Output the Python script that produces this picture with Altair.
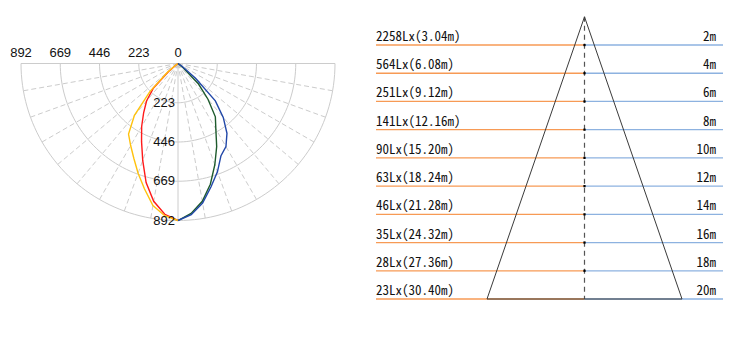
import altair as alt
import numpy as np
import pandas as pd

# ---------------- photometric (polar) data ----------------
# luminous intensity in cd against angle from nadir (degrees)
angles = [0, 5, 10, 15, 20, 25, 30, 35, 40, 45, 50, 55, 60, 65, 70, 75, 80, 85, 90]
plane_c0 = [892, 868, 820, 737, 663, 594, 538, 490, 385, 226, 78, 15, 0, 0, 0, 0, 0, 0, 0]
plane_c180 = [892, 860, 795, 700, 586, 490, 413, 340, 278, 197, 70, 10, 0, 0, 0, 0, 0, 0, 0]
plane_c90 = [892, 855, 795, 710, 612, 520, 430, 370, 265, 165, 40, 5, 0, 0, 0, 0, 0, 0, 0]
plane_c270 = [892, 862, 805, 725, 655, 578, 545, 485, 400, 300, 130, 30, 0, 0, 0, 0, 0, 0, 0]
ring_values = [223, 446, 669, 892]

# ---------------- illuminance cone data ----------------
distance_m = [2, 4, 6, 8, 10, 12, 14, 16, 18, 20]
illuminance_lx = [2258, 564, 251, 141, 90, 63, 46, 35, 28, 23]
spot_diameter_m = [3.04, 6.08, 9.12, 12.16, 15.20, 18.24, 21.28, 24.32, 27.36, 30.40]

H = 341
NUM_FONT = "Liberation Sans Narrow, Arial Narrow, Liberation Sans, sans-serif"
JP_FONT = "Noto Sans Mono CJK JP, Noto Sans CJK JP, Liberation Mono, monospace"

# ====================== polar panel ======================
LW = 360
S = 157 / 892          # px per cd
CX, CY = 178, 63.5     # pole position inside the panel
RMAX = ring_values[-1]

xs = alt.Scale(domain=[-CX / S, (LW - CX) / S], nice=False, zero=False)
ys = alt.Scale(domain=[-CY / S, (H - CY) / S], nice=False, zero=False, reverse=True)
X = lambda f: alt.X(f, type="quantitative", scale=xs, axis=None)
Y = lambda f: alt.Y(f, type="quantitative", scale=ys, axis=None)

rad = np.deg2rad
ring_rows = []
for r in ring_values:
    for a in range(-90, 91, 2):
        ring_rows.append({"r": r, "a": a, "x": r * np.sin(rad(a)), "y": r * np.cos(rad(a))})
rings = alt.Chart(pd.DataFrame(ring_rows)).mark_line(color="#cccccc", strokeWidth=1).encode(
    x=X("x"), y=Y("y"), detail="r:N", order="a:Q")

spoke_rows = []
for a in range(-90, 91, 10):
    spoke_rows.append({"a": a, "x": 0.0, "y": 0.0,
                       "x2": RMAX * np.sin(rad(a)), "y2": RMAX * np.cos(rad(a)),
                       "solid": a in (-90, 0, 90)})
spokes_df = pd.DataFrame(spoke_rows)
spokes_dash = alt.Chart(spokes_df[~spokes_df.solid]).mark_rule(
    color="#cccccc", strokeWidth=1, strokeDash=[5, 3]).encode(
    x=X("x"), y=Y("y"), x2="x2:Q", y2="y2:Q")
spokes_solid = alt.Chart(spokes_df[spokes_df.solid]).mark_rule(
    color="#cccccc", strokeWidth=1).encode(
    x=X("x"), y=Y("y"), x2="x2:Q", y2="y2:Q")

top_labels = pd.DataFrame({"v": [0] + ring_values})
top_labels["x"] = -top_labels["v"]
top_labels["y"] = 0.0
top_text = alt.Chart(top_labels).mark_text(
    font=NUM_FONT, fontSize=13, color="#111111", dy=-11, baseline="middle", align="center").encode(
    x=X("x"), y=Y("y"), text="v:N")

axis_labels = pd.DataFrame({"v": ring_values})
axis_labels["x"] = 0.0
axis_labels["y"] = axis_labels["v"]
axis_text = alt.Chart(axis_labels).mark_text(
    font=NUM_FONT, fontSize=13, color="#111111", dx=-3, baseline="middle", align="right").encode(
    x=X("x"), y=Y("y"), text="v:N")


def curve(values, side, color):
    d = pd.DataFrame({"a": angles, "v": values})
    d["x"] = side * d["v"] * np.sin(rad(d["a"]))
    d["y"] = d["v"] * np.cos(rad(d["a"]))
    return alt.Chart(d).mark_line(color=color, strokeWidth=1.4).encode(
        x=X("x"), y=Y("y"), order="a:Q")


polar = alt.layer(
    rings, spokes_dash, spokes_solid,
    curve(plane_c180, -1, "#ff1a1a"),
    curve(plane_c0, -1, "#ffc20e"),
    curve(plane_c90, 1, "#1d5a2c"),
    curve(plane_c270, 1, "#2147a8"),
    top_text, axis_text,
).properties(width=LW, height=H)

# ====================== cone panel ======================
RW = 390
C2 = 224.5           # cone axis position inside the panel
TOP0 = 16.8          # 0 m level
VY = 14.11           # px per metre of distance
HX = 97.5 / (spot_diameter_m[-1] / 2)   # px per metre of spot width

xs2 = alt.Scale(domain=[-C2 / HX, (RW - C2) / HX], nice=False, zero=False)
ys2 = alt.Scale(domain=[-TOP0 / VY, (H - TOP0) / VY], nice=False, zero=False, reverse=True)
X2 = lambda f: alt.X(f, type="quantitative", scale=xs2, axis=None)
Y2 = lambda f: alt.Y(f, type="quantitative", scale=ys2, axis=None)

LEFT_END = -(C2 - 16) / HX
RIGHT_END = (363 - C2) / HX

rows = pd.DataFrame({"d": distance_m, "lx": illuminance_lx, "dia": spot_diameter_m})
rows["left"] = LEFT_END
rows["right"] = RIGHT_END
rows["zero"] = 0.0
rows["label"] = [f"{l}Lx({v:.2f}m)" for l, v in zip(illuminance_lx, spot_diameter_m)]
rows["dlabel"] = [f"{d}m" for d in distance_m]

orange = alt.Chart(rows).mark_rule(color="#f79a55", strokeWidth=1.3).encode(
    x=X2("left"), x2="zero:Q", y=Y2("d"))
blue = alt.Chart(rows).mark_rule(color="#8db2e0", strokeWidth=1.3).encode(
    x=X2("zero"), x2="right:Q", y=Y2("d"))

last = rows.iloc[[-1]].copy()
half = last["dia"] / 2
cone_df = pd.DataFrame({
    "x": [0.0, 0.0, -half.iloc[0]],
    "y": [0.0, 0.0, last["d"].iloc[0]],
    "x2": [-half.iloc[0], half.iloc[0], half.iloc[0]],
    "y2": [last["d"].iloc[0]] * 3,
})
cone = alt.Chart(cone_df).mark_rule(color="#3a3a3a", strokeWidth=1).encode(
    x=X2("x"), y=Y2("y"), x2="x2:Q", y2="y2:Q")

axis_df = pd.DataFrame({"x": [0.0], "y": [0.0], "y2": [distance_m[-1]]})
centre = alt.Chart(axis_df).mark_rule(color="#555555", strokeWidth=1.2, strokeDash=[5, 4]).encode(
    x=X2("x"), y=Y2("y"), y2="y2:Q")

dots = alt.Chart(rows[rows.d < distance_m[-1]]).mark_square(color="#000000", size=5, opacity=1).encode(
    x=X2("zero"), y=Y2("d"))

left_text = alt.Chart(rows).mark_text(
    font=JP_FONT, fontSize=13, color="#111111", align="left", baseline="middle", dy=-8).encode(
    x=X2("left"), y=Y2("d"), text="label:N")
right_text = alt.Chart(rows).mark_text(
    font=JP_FONT, fontSize=13, color="#111111", align="right", baseline="middle", dx=-7, dy=-8).encode(
    x=X2("right"), y=Y2("d"), text="dlabel:N")

cone_panel = alt.layer(
    orange, blue, centre, cone, dots, left_text, right_text
).properties(width=RW, height=H)

chart = alt.hconcat(polar, cone_panel, spacing=0).properties(
    padding=0, background="white"
).configure_view(stroke=None)

chart.save("out.html", embed_options={"renderer": "svg", "actions": False})
